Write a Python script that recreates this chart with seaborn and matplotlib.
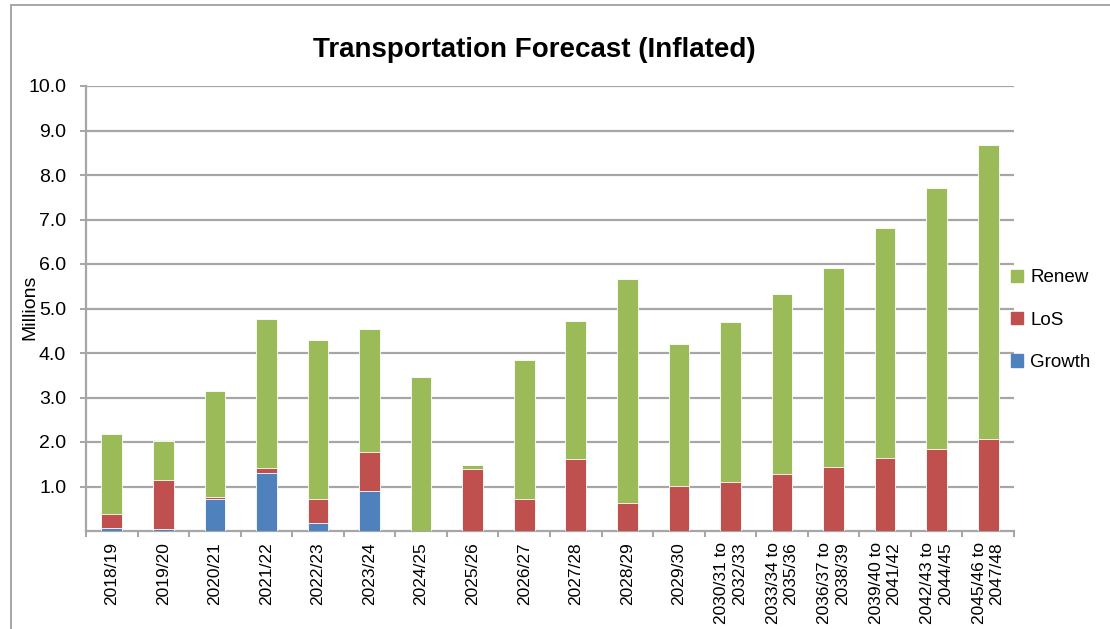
import numpy as np
import pandas as pd
import matplotlib
matplotlib.use('Agg')
import matplotlib.pyplot as plt
from matplotlib.lines import Line2D
from matplotlib.patches import Patch
import seaborn as sns

# values (millions)
periods = ['2018/19', '2019/20', '2020/21', '2021/22', '2022/23', '2023/24',
           '2024/25', '2025/26', '2026/27', '2027/28', '2028/29', '2029/30',
           '2030/31 to\n2032/33', '2033/34 to\n2035/36', '2036/37 to\n2038/39',
           '2039/40 to\n2041/42', '2042/43 to\n2044/45', '2045/46 to\n2047/48']
growth = [0.06, 0.05, 0.71, 1.30, 0.17, 0.90, 0.0, 0.0, 0.0, 0.0, 0.0, 0.0,
          0.0, 0.0, 0.0, 0.0, 0.0, 0.0]
los = [0.33, 1.10, 0.05, 0.11, 0.54, 0.88, 0.0, 1.39, 0.71, 1.62, 0.64, 1.01,
       1.11, 1.27, 1.44, 1.63, 1.84, 2.07]
renew = [1.78, 0.88, 2.39, 3.35, 3.59, 2.75, 3.46, 0.10, 3.13, 3.10, 5.02, 3.20,
         3.59, 4.06, 4.47, 5.18, 5.86, 6.61]
yticks = [1.0, 2.0, 3.0, 4.0, 5.0, 6.0, 7.0, 8.0, 9.0, 10.0]

c_renew = '#9BBB59'
c_los = '#C0504D'
c_growth = '#4F81BD'
grid_c = '#a6a6a6'

df = pd.DataFrame({'period': periods, 'growth': growth, 'los': los, 'renew': renew})
df['lvl1'] = df['growth']
df['lvl2'] = df['growth'] + df['los']
df['lvl3'] = df['lvl2'] + df['renew']

sns.set_style('white')
plt.rcParams['font.family'] = ['Liberation Sans', 'DejaVu Sans']
plt.rcParams['text.color'] = 'black'
plt.rcParams['xtick.labelcolor'] = 'black'
plt.rcParams['ytick.labelcolor'] = 'black'

W, H = 1110, 629
fig = plt.figure(figsize=(W / 100, H / 100), dpi=100)
ax = fig.add_axes([86 / W, 1 - 531 / H, (1014 - 86) / W, (531 - 86) / H])

# overlapping cumulative bars give the stacked look
for col, c in [('lvl3', c_renew), ('lvl2', c_los), ('lvl1', c_growth)]:
    sns.barplot(data=df, x='period', y=col, color=c, width=0.4, ax=ax,
                saturation=1, linewidth=0.6, edgecolor='white', zorder=3)

ax.set_xlim(-0.5, len(periods) - 0.5)
ax.set_ylim(0, 10)
ax.set_yticks(yticks)
ax.set_yticklabels(['%.1f' % v for v in yticks], fontsize=14)
ax.yaxis.grid(True, color=grid_c, linewidth=1.6, zorder=0)
ax.set_axisbelow(True)
ax.tick_params(axis='y', length=4.3, width=1.4, color=grid_c, left=True, pad=10)

ax.set_xticks(np.arange(len(periods)))
ax.set_xticklabels(periods, rotation=90, fontsize=12.5, multialignment='right')
ax.tick_params(axis='x', length=0, pad=8)
# category boundary ticks
ax.set_xticks(np.arange(len(periods) + 1) - 0.5, minor=True)
ax.tick_params(axis='x', which='minor', length=4.3, width=1.4, color=grid_c, bottom=True)

for s in ['top', 'right']:
    ax.spines[s].set_visible(False)
for s in ['left', 'bottom']:
    ax.spines[s].set_color(grid_c)
    ax.spines[s].set_linewidth(1.6)

ax.set_xlabel('')
ax.set_ylabel('Millions', fontsize=14, color='black')
ax.yaxis.set_label_coords((38 - 86) / 928, 0.502)
ax.set_title('Transportation Forecast (Inflated)', fontsize=20, fontweight='bold',
             pad=21, color='black', x=(534 - 86) / 928)

handles = [Patch(color=c_renew, label='Renew'),
           Patch(color=c_los, label='LoS'),
           Patch(color=c_growth, label='Growth')]
fig.legend(handles=handles, loc='upper left', bbox_to_anchor=(1003 / W, 1 - 262 / H),
           frameon=False, fontsize=13.5, handlelength=0.65, handleheight=0.65,
           handletextpad=0.4, labelspacing=1.35, borderaxespad=0)

# outer chart frame
fig.add_artist(Line2D([10.5 / W, 10.5 / W], [0, 1 - 5 / H], color=grid_c, linewidth=1.4))
fig.add_artist(Line2D([10.5 / W, 1], [1 - 5 / H, 1 - 5 / H], color=grid_c, linewidth=1.4))

fig.savefig('out.png', dpi=100)
